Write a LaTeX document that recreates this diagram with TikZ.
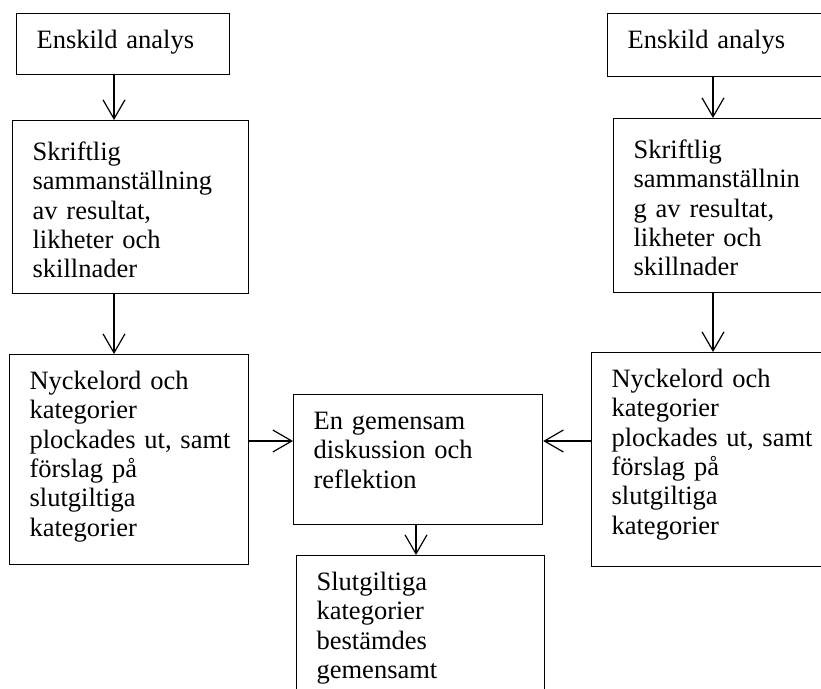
\documentclass[tikz,border=0pt]{standalone}
\usepackage{fontspec}
\setmainfont{Liberation Serif}
\usepackage{tikz}
\usetikzlibrary{arrows.meta,positioning}
\tikzstyle{arrow} = [line width=1.2pt,-{Straight Barb[length=19pt,width=22pt]}]
\tikzstyle{box} = [draw, line width=1.2pt, anchor=north west, align=left, inner xsep=20pt, inner ysep=0pt, text height=35pt, font=\fontsize{26.5}{29.3}\selectfont]

\begin{document}
\begin{tikzpicture}[x=1pt, y=-1pt]
\useasboundingbox (0,0) rectangle (821,688);
\clip (0,0) rectangle (821,688);

% Left column
\node[box, text width=173pt, text depth=26pt] (ensL) at (16,13) {Enskild analys};
\node[box, text width=196pt, text height=40pt, text depth=133pt] (skrL) at (12,120) {Skriftlig\\sammanställning\\av resultat,\\likheter och\\skillnader};
\node[box, text width=199pt, text depth=175pt] (nycL) at (9,354) {Nyckelord och\\kategorier\\plockades~ut,~samt\\förslag på\\slutgiltiga\\kategorier};

% Middle
\node[box, text width=209pt, text depth=95pt] (disk) at (293,394) {En gemensam\\diskussion och\\reflektion};
\node[box, text width=208pt, text depth=125pt] (slut) at (296,555) {Slutgiltiga\\kategorier\\bestämdes\\gemensamt};

% Right column
\node[box, text width=176pt, text depth=28pt] (ensR) at (607,13) {Enskild analys};
\node[box, text width=175pt, text height=40pt, text depth=134pt] (skrR) at (613,118) {Skriftlig\\sammanställnin\\g av resultat,\\likheter och\\skillnader};
\node[box, text width=200pt, text depth=179pt] (nycR) at (591,352) {Nyckelord och\\kategorier\\plockades~ut,~samt\\förslag på\\slutgiltiga\\kategorier};

% Arrows
\coordinate (lcol) at (114,0);
\coordinate (rcol) at (713,0);
\coordinate (ccol) at (416,0);
\coordinate (mrow) at (0,441);
\draw[arrow] (ensL.south -| lcol) -- (skrL.north -| lcol);
\draw[arrow] (skrL.south -| lcol) -- (nycL.north -| lcol);
\draw[arrow] (ensR.south -| rcol) -- (skrR.north -| rcol);
\draw[arrow] (skrR.south -| rcol) -- (nycR.north -| rcol);
\draw[arrow] (nycL.east |- mrow) -- (disk.west |- mrow);
\draw[arrow] (nycR.west |- mrow) -- (disk.east |- mrow);
\draw[arrow] (disk.south -| ccol) -- (slut.north -| ccol);
\end{tikzpicture}
\end{document}
